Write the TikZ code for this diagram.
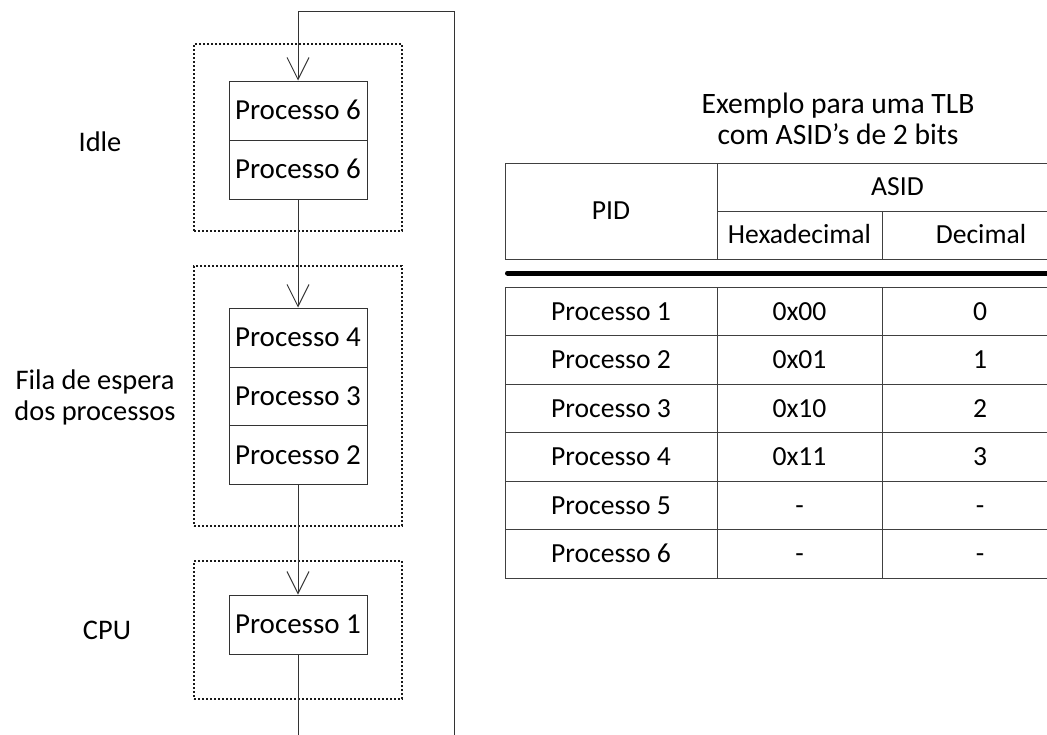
\documentclass[tikz,border=0pt]{standalone}
\usepackage{fontspec}
\setmainfont{Carlito}
\usetikzlibrary{arrows.meta}

\begin{document}
\begin{tikzpicture}[x=1pt,y=-1pt,
  proc/.style={draw=black!80, line width=1pt, fill=white, minimum width=138pt,
    minimum height=59pt, inner sep=0pt, text height=18.7pt, text depth=0pt,
    font=\fontsize{29}{34}\selectfont},
  grp/.style={draw=black!90, line width=1.6pt, dash pattern=on 2pt off 2pt,
    minimum width=208pt, inner sep=0pt},
  lbl/.style={align=center, font=\fontsize{28.4}{31}\selectfont, inner sep=0pt},
  ttl/.style={align=center, font=\fontsize{29.6}{31}\selectfont, inner sep=0pt},
  flow/.style={draw=black!80, line width=1pt},
  arr/.style={flow, -{Straight Barb[length=22pt,width=22pt]}},
  cell/.style={font=\fontsize{27.6}{32}\selectfont, inner sep=0pt,
    text height=17.8pt, text depth=0pt},
  grid/.style={draw=black!75, line width=1pt}
]
\useasboundingbox (0,0) rectangle (1047,734);
\clip (0,0) rectangle (1047,734);

% ---- process groups (dotted frames) ----
\node[grp, minimum height=187pt] (gidle) at (298,137.5) {};
\node[grp, minimum height=260pt] (gqueue) at (298,396) {};
\node[grp, minimum height=138pt] (gcpu) at (298,630) {};

% ---- group labels ----
\node[lbl] (lidle) at (100,142) {Idle};
\node[lbl] (lqueue) at (95,397) {Fila de espera\\dos processos};
\node[lbl] (lcpu) at (107,630) {CPU};

% ---- process boxes ----
\node[proc] (p6a) at (298,110.5) {Processo 6};
\node[proc] (p6b) at (298,169.5) {Processo 6};
\node[proc] (p4) at (298,337.5) {Processo 4};
\node[proc] (p3) at (298,396.5) {Processo 3};
\node[proc] (p2) at (298,455) {Processo 2};
\node[proc] (p1) at (298,624.5) {Processo 1};

% ---- flow between stages ----
\coordinate (loopin) at (454,740);
\coordinate (looptop) at (454,11);
\coordinate (out) at (298,740);
\draw[arr] (loopin) -- (looptop) -| (p6a.north);
\draw[arr] (p6b.south) -- (p4.north);
\draw[arr] (p2.south) -- (p1.north);
\draw[flow] (p1.south) -- (out);

% ---- table title ----
\node[ttl] (title) at (838,119) {Exemplo para uma TLB\\com ASID’s de 2 bits};

% ---- table header ----
\draw[grid] (505,163) rectangle (1078,259);
\draw[grid] (717,163) -- (717,259);
\draw[grid] (717,211) -- (1078,211);
\draw[grid] (882,211) -- (882,259);
\node[cell] (hpid) at (611,211) {PID};
\node[cell] (hasid) at (897.5,187) {ASID};
\node[cell] (hhex) at (799.5,235) {Hexadecimal};
\node[cell] (hdec) at (981,235) {Decimal};

% ---- header separator ----
\draw[line width=5pt, line cap=round] (507.5,273) -- (1090,273);

% ---- table body ----
\draw[grid] (505,287) rectangle (1078,578);
\draw[grid] (717,287) -- (717,578);
\draw[grid] (882,287) -- (882,578);
\foreach \k in {1,...,5} {
  \draw[grid] (505,287+48.5*\k) -- (1078,287+48.5*\k);
}
\foreach \n/\h/\d [count=\i] in {1/0x00/0, 2/0x01/1, 3/0x10/2, 4/0x11/3, 5/-/-, 6/-/-} {
  \node[cell] (pid\i) at (611,311.5+48.5*\i-48.5) {Processo \n};
  \node[cell] (hex\i) at (799.5,311.5+48.5*\i-48.5) {\h};
  \node[cell] (dec\i) at (980,311.5+48.5*\i-48.5) {\d};
}
\end{tikzpicture}
\end{document}
